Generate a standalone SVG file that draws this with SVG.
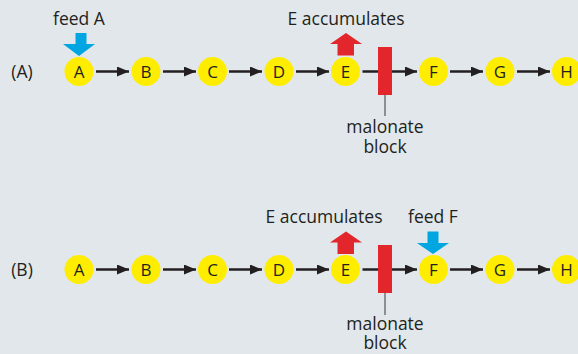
<svg xmlns="http://www.w3.org/2000/svg" width="578" height="354" viewBox="0 0 578 354">
<defs>
<style>
.t{font-family:"Open Sans","Noto Sans","Liberation Sans",sans-serif;font-size:17.5px;fill:#231f20;text-anchor:middle}
.n circle{fill:#ffed00}
.n text{font-size:17px}
.c line{stroke:#231f20;stroke-width:2.5}
.blk{fill:#e3262b}
.feed{fill:#00a6e2}
.lead{stroke:#555;stroke-width:1.2}
</style>
<marker id="ah" viewBox="0 0 12 10" refX="12" refY="5" markerWidth="12" markerHeight="10" markerUnits="userSpaceOnUse" orient="auto">
<path d="M0,0 L12,5 L0,10 Z" fill="#231f20"/>
</marker>
</defs>
<rect width="578" height="354" fill="#e1e7ea"/>

<!-- Row A -->
<text class="t" x="22" y="78">(A)</text>
<g id="connectorsA" class="c">
<line x1="96" y1="71.5" x2="129" y2="71.5" marker-end="url(#ah)"/>
<line x1="163" y1="71.5" x2="196" y2="71.5" marker-end="url(#ah)"/>
<line x1="229" y1="71.5" x2="262" y2="71.5" marker-end="url(#ah)"/>
<line x1="296" y1="71.5" x2="329" y2="71.5" marker-end="url(#ah)"/>
<line x1="362.5" y1="71.5" x2="417" y2="71.5" marker-end="url(#ah)"/>
<line x1="450" y1="71.5" x2="483" y2="71.5" marker-end="url(#ah)"/>
<line x1="517" y1="71.5" x2="550" y2="71.5" marker-end="url(#ah)"/>
</g>
<g id="nodeA1" class="n"><circle cx="79" cy="71.5" r="14.5"/><text class="t" x="79" y="77.5">A</text></g>
<g id="nodeB1" class="n"><circle cx="146" cy="71.5" r="14.5"/><text class="t" x="146" y="77.5">B</text></g>
<g id="nodeC1" class="n"><circle cx="212.5" cy="71.5" r="14.5"/><text class="t" x="212.5" y="77.5">C</text></g>
<g id="nodeD1" class="n"><circle cx="279" cy="71.5" r="14.5"/><text class="t" x="279" y="77.5">D</text></g>
<g id="nodeE1" class="n"><circle cx="345.5" cy="71.5" r="14.5"/><text class="t" x="345.5" y="77.5">E</text></g>
<g id="nodeF1" class="n"><circle cx="433.5" cy="71.5" r="14.5"/><text class="t" x="433.5" y="77.5">F</text></g>
<g id="nodeG1" class="n"><circle cx="500" cy="71.5" r="14.5"/><text class="t" x="500" y="77.5">G</text></g>
<g id="nodeH1" class="n"><circle cx="566.5" cy="71.5" r="14.5"/><text class="t" x="566.5" y="77.5">H</text></g>
<g id="feedA">
<text class="t" x="79" y="25">feed A</text>
<path class="feed" d="M75.5,33 H86.5 V44 H95 L79,56 L63,44 H75.5 Z"/>
</g>
<g id="accumA">
<text class="t" x="346" y="25">E accumulates</text>
<path class="blk" d="M337.5,55.5 H354 V44 H362 L346,33 L330,44 H337.5 Z"/>
</g>
<g id="blockA">
<rect class="blk" x="378" y="47" width="14" height="48"/>
<line class="lead" x1="385" y1="95" x2="385" y2="116"/>
<text class="t" x="385" y="133">malonate<tspan x="385" dy="20">block</tspan></text>
</g>

<!-- Row B -->
<text class="t" x="22" y="276">(B)</text>
<g id="connectorsB" class="c">
<line x1="96" y1="269.5" x2="129" y2="269.5" marker-end="url(#ah)"/>
<line x1="163" y1="269.5" x2="196" y2="269.5" marker-end="url(#ah)"/>
<line x1="229" y1="269.5" x2="262" y2="269.5" marker-end="url(#ah)"/>
<line x1="296" y1="269.5" x2="329" y2="269.5" marker-end="url(#ah)"/>
<line x1="362.5" y1="269.5" x2="417" y2="269.5" marker-end="url(#ah)"/>
<line x1="450" y1="269.5" x2="483" y2="269.5" marker-end="url(#ah)"/>
<line x1="517" y1="269.5" x2="550" y2="269.5" marker-end="url(#ah)"/>
</g>
<g id="nodeA2" class="n"><circle cx="79" cy="269.5" r="14.5"/><text class="t" x="79" y="275.5">A</text></g>
<g id="nodeB2" class="n"><circle cx="146" cy="269.5" r="14.5"/><text class="t" x="146" y="275.5">B</text></g>
<g id="nodeC2" class="n"><circle cx="212.5" cy="269.5" r="14.5"/><text class="t" x="212.5" y="275.5">C</text></g>
<g id="nodeD2" class="n"><circle cx="279" cy="269.5" r="14.5"/><text class="t" x="279" y="275.5">D</text></g>
<g id="nodeE2" class="n"><circle cx="345.5" cy="269.5" r="14.5"/><text class="t" x="345.5" y="275.5">E</text></g>
<g id="nodeF2" class="n"><circle cx="433.5" cy="269.5" r="14.5"/><text class="t" x="433.5" y="275.5">F</text></g>
<g id="nodeG2" class="n"><circle cx="500" cy="269.5" r="14.5"/><text class="t" x="500" y="275.5">G</text></g>
<g id="nodeH2" class="n"><circle cx="566.5" cy="269.5" r="14.5"/><text class="t" x="566.5" y="275.5">H</text></g>
<g id="accumB">
<text class="t" x="324" y="223">E accumulates</text>
<path class="blk" d="M337.5,254 H354 V242.5 H362 L346,231.5 L330,242.5 H337.5 Z"/>
</g>
<g id="feedF">
<text class="t" x="433" y="223">feed F</text>
<path class="feed" d="M427.5,231.5 H438.5 V243 H449 L433,254 L417,243 H427.5 Z"/>
</g>
<g id="blockB">
<rect class="blk" x="378" y="245" width="14" height="48"/>
<line class="lead" x1="385" y1="293" x2="385" y2="315"/>
<text class="t" x="385" y="330">malonate<tspan x="385" dy="18.5">block</tspan></text>
</g>
</svg>
